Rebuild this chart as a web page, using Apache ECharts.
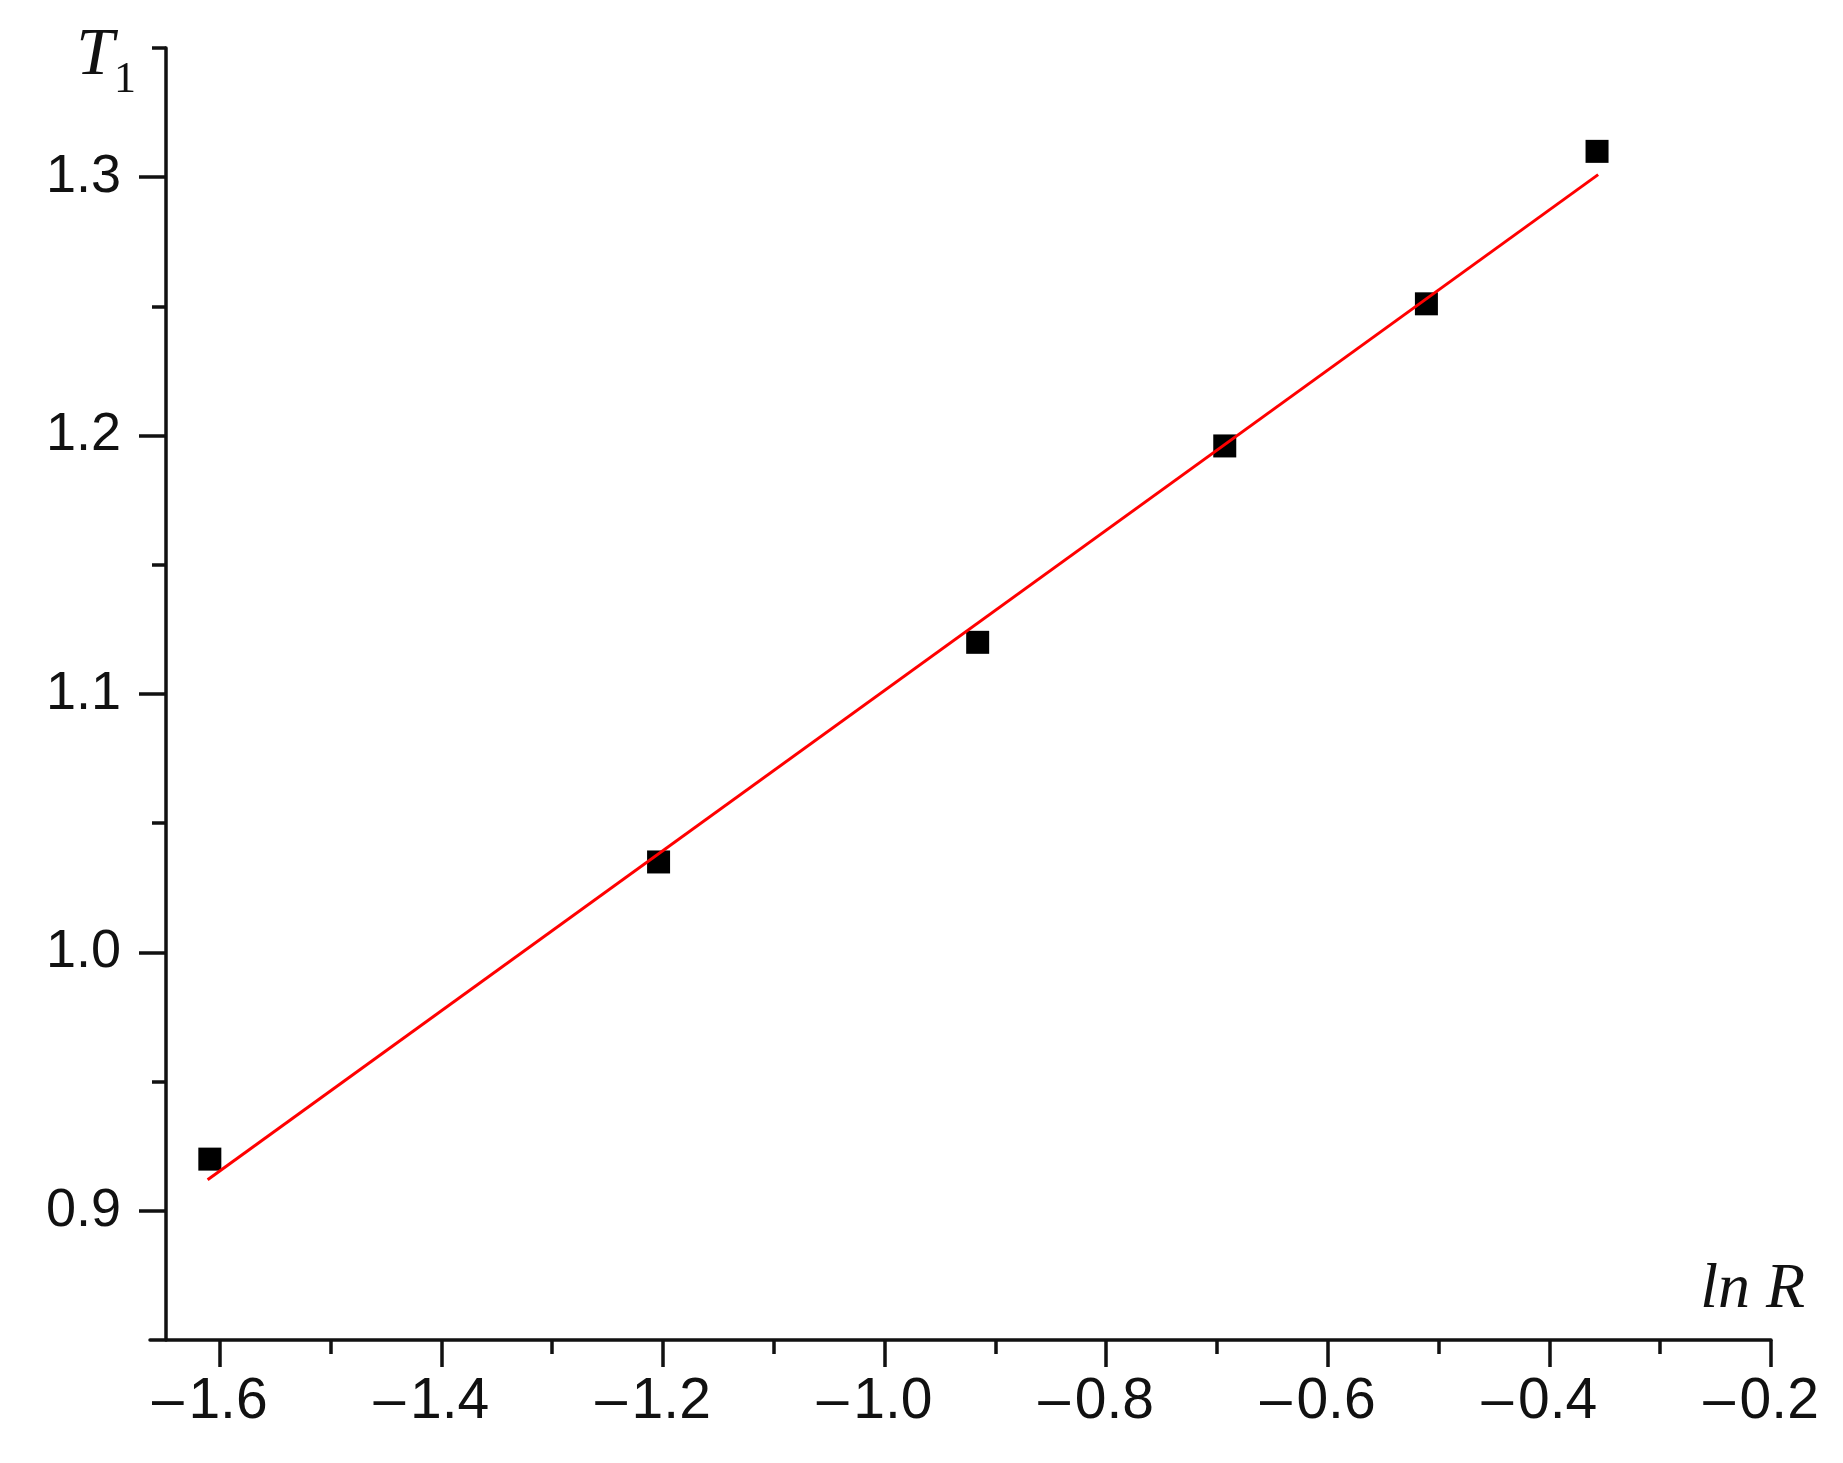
<!DOCTYPE html>
<html>
<head>
<meta charset="utf-8">
<title>T1 - ln R</title>
<script src="https://cdn.jsdelivr.net/npm/echarts@6/dist/echarts.min.js"></script>
<style>
  html, body { margin: 0; padding: 0; background: #fff; }
  #main { width: 1843px; height: 1463px; }
</style>
</head>
<body>
<div id="main"></div>
<script>
var lnR = [-1.609, -1.204, -0.916, -0.693, -0.511, -0.357];
var T1 = [0.920, 1.035, 1.120, 1.196, 1.251, 1.310];

// red fit line, its two ends as drawn in the figure
var fitX = [-1.611, -0.356];
var fitY = [0.912, 1.301];

// ticks
var xMajor = [-1.6, -1.4, -1.2, -1.0, -0.8, -0.6, -0.4, -0.2];
var xMinor = [-1.5, -1.3, -1.1, -0.9, -0.7, -0.5, -0.3];
var yMajor = [0.9, 1.0, 1.1, 1.2, 1.3];
var yMinor = [0.95, 1.05, 1.15, 1.25, 1.35];

var sans = "'Liberation Sans', Arial, sans-serif";
var serif = "'Liberation Serif', 'Times New Roman', serif";
var ink = '#111';

var xMin = -1.663, xMax = -0.2;
var yMin = 0.85, yMax = 1.35;
var yShift = -16; // y axis sits a little right of where the x axis starts

function pairs(xs, ys) {
  var out = [];
  for (var i = 0; i < xs.length; i++) {
    out.push([xs[i], ys[i]]);
  }
  return out;
}

var chart = echarts.init(document.getElementById('main'), null, { renderer: 'canvas' });

var option = {
  animation: false,
  backgroundColor: '#fff',
  grid: { left: 150, right: 72, top: 48, bottom: 123 },
  xAxis: [
    {
      type: 'value', min: xMin, max: xMax, position: 'bottom',
      name: 'ln R', nameLocation: 'end', nameGap: 34,
      nameTextStyle: {
        fontFamily: serif, fontStyle: 'italic', fontSize: 64, color: ink,
        align: 'right', verticalAlign: 'bottom', padding: [0, 0, 18, 0]
      },
      axisLine: { show: true, lineStyle: { color: ink, width: 3.5 } },
      axisTick: { show: true, customValues: xMajor, length: 27, lineStyle: { color: ink, width: 3.5 } },
      axisLabel: {
        customValues: xMajor, margin: 34, fontFamily: sans, fontSize: 57, color: ink,
        padding: [0, 20, 0, 0],
        formatter: function (v) {
          return (v < 0 ? '\u2013\u200A' : '') + Math.abs(v).toFixed(1);
        }
      },
      splitLine: { show: false }
    },
    {
      // minor ticks only
      type: 'value', min: xMin, max: xMax, position: 'bottom',
      axisLine: { show: false },
      axisTick: { show: true, customValues: xMinor, length: 14, lineStyle: { color: ink, width: 3.5 } },
      axisLabel: { show: false },
      splitLine: { show: false }
    }
  ],
  yAxis: [
    {
      type: 'value', min: yMin, max: yMax, position: 'left', offset: yShift,
      name: '{t|T}{s|1}', nameLocation: 'end', nameGap: 26,
      nameTextStyle: {
        align: 'right', verticalAlign: 'top', padding: [0, 30, 0, 0],
        rich: {
          t: { fontFamily: serif, fontStyle: 'italic', fontSize: 68, color: ink, verticalAlign: 'top' },
          s: { fontFamily: serif, fontSize: 44, color: ink, verticalAlign: 'top', padding: [36, 0, 0, 0] }
        }
      },
      axisLine: { show: true, lineStyle: { color: ink, width: 3.5 } },
      axisTick: { show: true, customValues: yMajor, length: 27, lineStyle: { color: ink, width: 3.5 } },
      axisLabel: {
        customValues: yMajor, margin: 45, fontFamily: sans, fontSize: 54, color: ink,
        formatter: function (v) { return v.toFixed(1); }
      },
      splitLine: { show: false }
    },
    {
      type: 'value', min: yMin, max: yMax, position: 'left', offset: yShift,
      axisLine: { show: false },
      axisTick: { show: true, customValues: yMinor, length: 14, lineStyle: { color: ink, width: 3.5 } },
      axisLabel: { show: false },
      splitLine: { show: false }
    }
  ],
  series: [
    {
      type: 'scatter',
      xAxisIndex: 0, yAxisIndex: 0,
      symbol: 'rect', symbolSize: 23,
      itemStyle: { color: '#000', opacity: 1 },
      data: pairs(lnR, T1)
    },
    {
      type: 'line',
      xAxisIndex: 0, yAxisIndex: 0,
      showSymbol: false, symbol: 'none',
      lineStyle: { color: '#ff0000', width: 3 },
      data: pairs(fitX, fitY),
      z: 3
    }
  ]
};

chart.setOption(option);
</script>
</body>
</html>
